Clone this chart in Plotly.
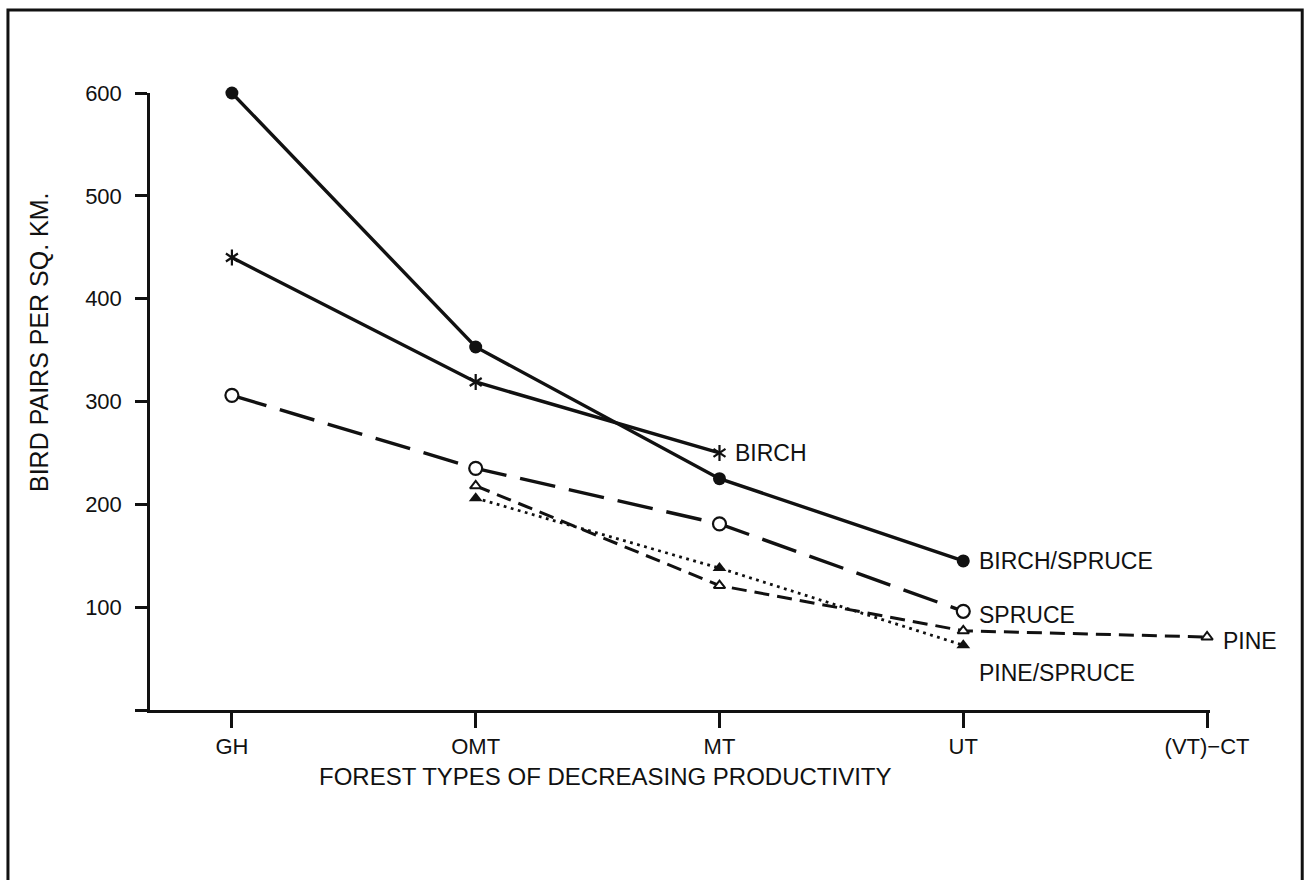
import plotly.graph_objects as go

categories = ["GH", "OMT", "MT", "UT", "(VT)\u2212CT"]

birch_spruce_x = ["GH", "OMT", "MT", "UT"]
birch_spruce_y = [600, 353, 225, 145]

birch_x = ["GH", "OMT", "MT"]
birch_y = [440, 319, 250]

spruce_x = ["GH", "OMT", "MT", "UT"]
spruce_y = [306, 235, 181, 96]

pine_x = ["OMT", "MT", "UT", "(VT)\u2212CT"]
pine_y = [218, 121, 77, 71]

pine_spruce_x = ["OMT", "MT", "UT"]
pine_spruce_y = [206, 138, 63]

y_ticks = [0, 100, 200, 300, 400, 500, 600]
y_tick_text = ["", "100", "200", "300", "400", "500", "600"]

FONT = "Liberation Sans, Arial, sans-serif"
BLACK = "#111111"

fig = go.Figure()

fig.add_trace(go.Scatter(
    x=birch_spruce_x, y=birch_spruce_y, mode="lines+markers", name="BIRCH/SPRUCE",
    line=dict(color=BLACK, width=3.4),
    marker=dict(symbol="circle", size=13, color=BLACK),
    cliponaxis=False))

fig.add_trace(go.Scatter(
    x=birch_x, y=birch_y, mode="lines+markers", name="BIRCH",
    line=dict(color=BLACK, width=3.4),
    marker=dict(symbol="y-up-open", size=10, color=BLACK, line=dict(color=BLACK, width=2.2)),
    cliponaxis=False))
fig.add_trace(go.Scatter(
    x=birch_x, y=birch_y, mode="markers", name="BIRCH", hoverinfo="skip",
    marker=dict(symbol="y-down-open", size=10, color=BLACK, line=dict(color=BLACK, width=2.2)),
    cliponaxis=False))

fig.add_trace(go.Scatter(
    x=spruce_x, y=spruce_y, mode="lines+markers", name="SPRUCE",
    line=dict(color=BLACK, width=3.4, dash="36px,14px"),
    marker=dict(symbol="circle", size=13, color="white", line=dict(color=BLACK, width=2.2)),
    cliponaxis=False))

fig.add_trace(go.Scatter(
    x=pine_x, y=pine_y, mode="lines+markers", name="PINE",
    line=dict(color=BLACK, width=3.0, dash="15px,8px"),
    marker=dict(symbol="triangle-up", size=10, color="white", line=dict(color=BLACK, width=2)),
    cliponaxis=False))

fig.add_trace(go.Scatter(
    x=pine_spruce_x, y=pine_spruce_y, mode="lines+markers", name="PINE/SPRUCE",
    line=dict(color=BLACK, width=2.8, dash="2.8px,4.5px"),
    marker=dict(symbol="triangle-up", size=12, color=BLACK),
    cliponaxis=False))

# series end labels
labels = [
    ("MT", 250, "BIRCH"),
    ("UT", 145, "BIRCH/SPRUCE"),
    ("UT", 92, "SPRUCE"),
    ("(VT)\u2212CT", 67, "PINE"),
    ("UT", 36, "PINE/SPRUCE"),
]
for lx, ly, txt in labels:
    fig.add_annotation(x=lx, y=ly, text=txt, showarrow=False, xanchor="left",
                       yanchor="middle", xshift=14,
                       font=dict(family=FONT, size=23, color=BLACK))

# axis titles
fig.add_annotation(xref="paper", yref="paper", x=-0.104, y=0.596, text="BIRD PAIRS PER SQ. KM.",
                   textangle=-90, showarrow=False, xanchor="center", yanchor="middle",
                   font=dict(family=FONT, size=25, color=BLACK))
fig.add_annotation(xref="paper", yref="paper", x=0.43, y=-0.108,
                   text="FOREST TYPES OF DECREASING PRODUCTIVITY",
                   showarrow=False, xanchor="center", yanchor="middle",
                   font=dict(family=FONT, size=24, color=BLACK))

# outer frame
fig.add_shape(type="rect", xref="paper", yref="paper", x0=-0.134, x1=1.087, y0=-0.3, y1=1.1345,
              line=dict(color=BLACK, width=3), fillcolor="rgba(0,0,0,0)")

fig.update_layout(
    width=1307, height=880,
    margin=dict(l=150, r=97, t=93, b=170),
    paper_bgcolor="white", plot_bgcolor="white",
    showlegend=False,
    font=dict(family=FONT, color=BLACK),
    xaxis=dict(type="category", categoryorder="array", categoryarray=categories,
               range=[-0.336, 4.012], showgrid=False, zeroline=False,
               showline=True, linecolor=BLACK, linewidth=2.5,
               ticks="outside", ticklen=15, tickwidth=2.5, tickcolor=BLACK,
               tickfont=dict(family=FONT, size=22, color=BLACK), ticklabelstandoff=0),
    yaxis=dict(range=[0, 600], tickvals=y_ticks, ticktext=y_tick_text,
               showgrid=False, zeroline=False,
               showline=True, linecolor=BLACK, linewidth=2.5,
               ticks="outside", ticklen=12, tickwidth=2.5, tickcolor=BLACK,
               tickfont=dict(family=FONT, size=22, color=BLACK), ticklabelstandoff=9),
)

fig.write_html("out.html", config={"displayModeBar": False},
               post_script="document.body.style.margin='0';document.body.style.overflow='hidden';")
